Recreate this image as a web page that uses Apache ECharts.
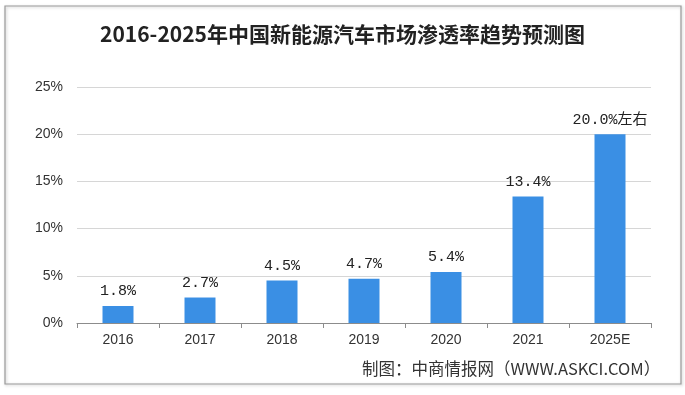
<!DOCTYPE html>
<html><head><meta charset="utf-8">
<script src="https://cdn.jsdelivr.net/npm/echarts@6/dist/echarts.min.js"></script>
<style>html,body{margin:0;padding:0;background:#fff}#c{width:685px;height:395px}</style>
</head><body><div id="c"></div>
<script>
const titleText = '2016-2025年中国新能源汽车市场渗透率趋势预测图';
const sourceText = '制图：中商情报网（WWW.ASKCI.COM）';
const categories = ['2016','2017','2018','2019','2020','2021','2025E'];
const values = [1.8, 2.7, 4.5, 4.7, 5.4, 13.4, 20.0];
const valueLabels = ['1.8%','2.7%','4.5%','4.7%','5.4%','13.4%','20.0%左右'];
const yTicks = [0,5,10,15,20,25];

const chart = echarts.init(document.getElementById('c'));
chart.setOption({
  animation:false,
  backgroundColor:'#fff',
  title:{text:titleText,left:'center',top:19,textStyle:{fontFamily:'Noto Sans CJK SC',fontSize:21,fontWeight:'bold',color:'#222'}},
  graphic:[
    {type:'rect',shape:{x:5,y:6,width:676,height:378},style:{fill:'none',stroke:'#9a9a9a',lineWidth:1.2,shadowBlur:3,shadowColor:'rgba(0,0,0,0.25)',shadowOffsetX:1,shadowOffsetY:1}},
    {type:'text',left:362,top:360,style:{text:sourceText,fontFamily:'Noto Sans CJK SC',fontSize:16.5,fill:'#333'}}
  ],
  grid:{left:77,right:34,top:87,bottom:72,containLabel:false},
  xAxis:{type:'category',data:categories,boundaryGap:true,
    axisLine:{lineStyle:{color:'#8c8c8c'}},
    axisTick:{show:true,alignWithLabel:false,length:5,lineStyle:{color:'#8c8c8c'}},
    axisLabel:{color:'#333',fontFamily:'Liberation Sans',fontSize:14,margin:10}},
  yAxis:{type:'value',min:0,max:25,interval:5,
    axisLine:{show:false},axisTick:{show:false},
    splitLine:{lineStyle:{color:'#d6d6d6'}},
    axisLabel:{color:'#333',fontFamily:'Liberation Sans',fontSize:14,margin:14,formatter:v=>yTicks.includes(v)?v+'%':''}},
  series:[{type:'bar',data:values,barWidth:31,itemStyle:{color:'#3a8fe4'},
    label:{show:true,position:'top',distance:7,fontFamily:'Liberation Mono, Noto Sans CJK SC',fontSize:15,color:'#222',
      formatter:p=>valueLabels[p.dataIndex]}}]
});
</script></body></html>
